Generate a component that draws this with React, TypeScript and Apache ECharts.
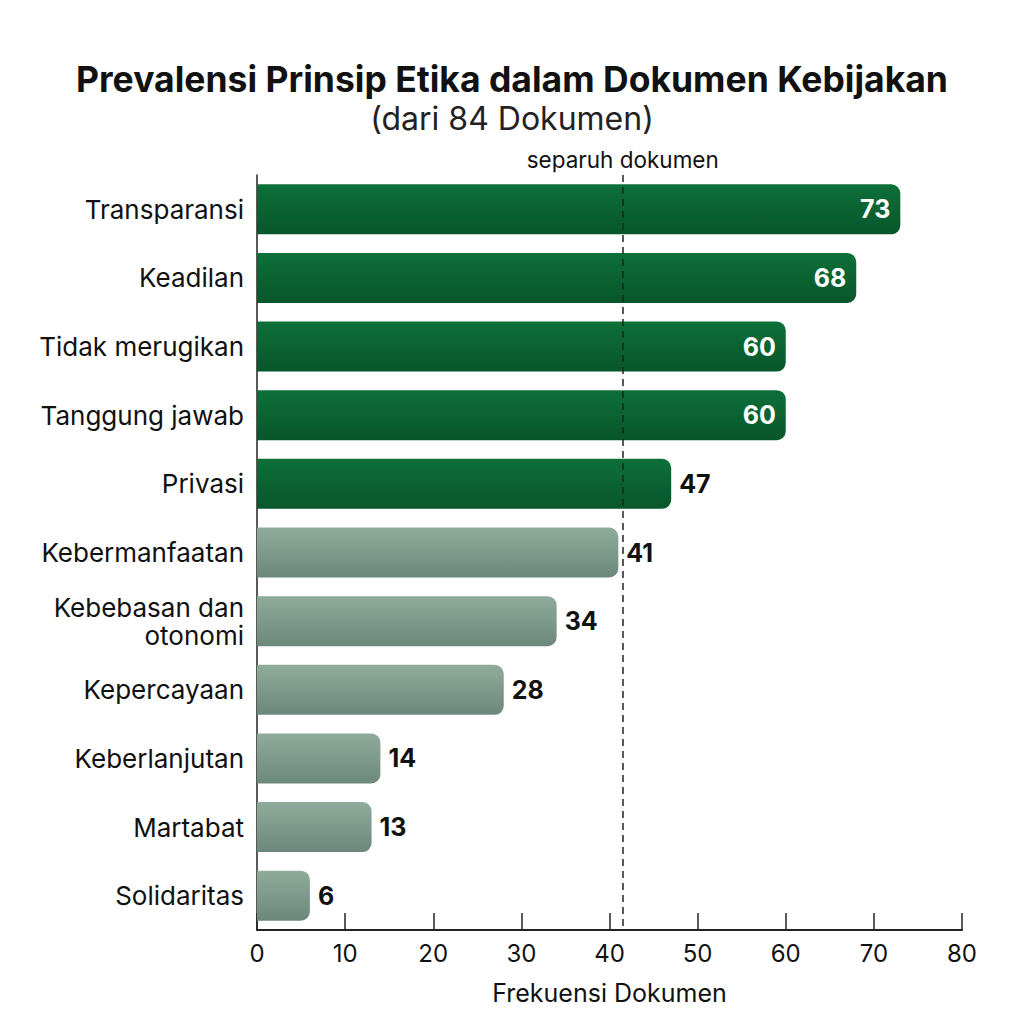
import React, { useEffect, useRef } from "react";
import * as echarts from "echarts";

const categories = [
  "Transparansi",
  "Keadilan",
  "Tidak merugikan",
  "Tanggung jawab",
  "Privasi",
  "Kebermanfaatan",
  "Kebebasan dan\notonomi",
  "Kepercayaan",
  "Keberlanjutan",
  "Martabat",
  "Solidaritas",
];
const values = [73, 68, 60, 60, 47, 41, 34, 28, 14, 13, 6];
const halfLine = 41.5;
const xTicks = [0, 10, 20, 30, 40, 50, 60, 70, 80];

const FONT = "Inter, 'Noto Sans', sans-serif";

export default function App() {
  const ref = useRef<HTMLDivElement>(null);
  useEffect(() => {
    if (!ref.current) return;
    const chart = echarts.init(ref.current, undefined, { renderer: "svg" });
    const green = new echarts.graphic.LinearGradient(0, 0, 0, 1, [
      { offset: 0, color: "#0d7038" },
      { offset: 1, color: "#08562b" },
    ]);
    const gray = new echarts.graphic.LinearGradient(0, 0, 0, 1, [
      { offset: 0, color: "#8eab9c" },
      { offset: 1, color: "#6b887b" },
    ]);
    const data = values.map((v, i) => ({
      value: v,
      itemStyle: { color: v > 42 ? green : gray },
      label:
        i < 4
          ? { position: "insideRight", color: "#ffffff", distance: 10 }
          : { position: "right", color: "#111111", distance: 8 },
    }));
    chart.setOption({
      animation: false,
      backgroundColor: "#ffffff",
      title: {
        text: "Prevalensi Prinsip Etika dalam Dokumen Kebijakan",
        subtext: "(dari 84 Dokumen)",
        left: "center",
        top: 56,
        itemGap: 5,
        textStyle: { fontFamily: FONT, fontSize: 35.5, fontWeight: "bold", color: "#111" },
        subtextStyle: { fontFamily: FONT, fontSize: 32, color: "#222" },
      },
      grid: { left: 257, right: 62, top: 175, bottom: 94, containLabel: false },
      xAxis: {
        type: "value",
        min: 0,
        max: 80,
        interval: 10,
        name: "Frekuensi Dokumen",
        nameLocation: "middle",
        nameGap: 50,
        nameTextStyle: { fontFamily: FONT, fontSize: 25, color: "#111" },
        axisLine: { show: true, lineStyle: { color: "#222", width: 2 } },
        axisTick: { show: true, inside: true, length: 17, lineStyle: { color: "#222", width: 1.5 } },
        axisLabel: {
          fontFamily: FONT,
          fontSize: 24,
          color: "#111",
          margin: 11,
          formatter: (v: number) => (xTicks.includes(v) ? String(v) : ""),
        },
        splitLine: { show: false },
      },
      yAxis: {
        type: "category",
        data: categories,
        inverse: true,
        axisLine: { show: true, lineStyle: { color: "#222", width: 1.5 } },
        axisTick: { show: false },
        axisLabel: {
          fontFamily: FONT,
          fontSize: 26,
          color: "#111",
          margin: 13,
          lineHeight: 28,
          align: "right",
        },
      },
      series: [
        {
          type: "bar",
          data,
          barWidth: 50,
          itemStyle: { borderRadius: [0, 9, 9, 0] },
          label: {
            show: true,
            fontFamily: FONT,
            fontSize: 25,
            fontWeight: "bold",
          },
          markLine: {
            silent: true,
            symbol: "none",
            lineStyle: { type: [7, 5], color: "#222", width: 1.5 },
            label: {
              show: true,
              position: "start",
              formatter: "separuh dokumen",
              fontFamily: FONT,
              fontSize: 22.5,
              color: "#111",
              distance: 4,
            },
            data: [{ xAxis: halfLine }],
          },
        },
      ],
    });
    return () => chart.dispose();
  }, []);
  return (
    <div
      ref={ref}
      style={{ position: "absolute", left: 0, top: 0, width: 1024, height: 1024 }}
    />
  );
}
